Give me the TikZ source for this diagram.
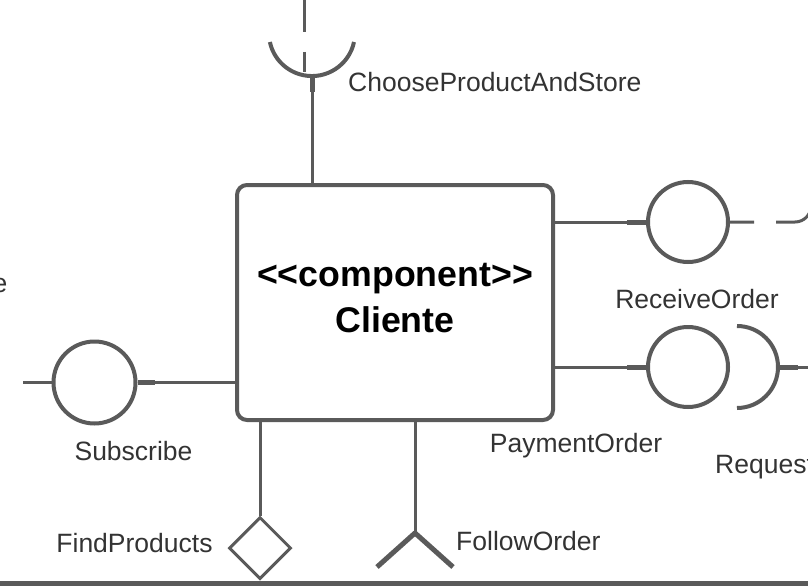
\documentclass[tikz,border=0pt]{standalone}
\usepackage{fontspec}
\setmainfont{Liberation Sans}[Ligatures=TeXOff]
\usetikzlibrary{shapes.geometric}
\definecolor{lc}{HTML}{5A5A5A}
\definecolor{tc}{HTML}{333333}
\begin{document}
\begin{tikzpicture}[x=1pt,y=-1pt,
  conn/.style={draw=lc,line width=3pt},
  stub/.style={draw=lc,line width=5pt},
  iface/.style={circle,draw=lc,line width=4pt,minimum size=80pt,inner sep=0pt,fill=white},
  compbox/.style={draw=lc,line width=4pt,rounded corners=10pt,minimum width=316pt,minimum height=235pt,inner sep=0pt},
  lbl/.style={text=tc,font=\fontsize{26.5}{30}\selectfont,inner sep=0pt},
  titletext/.style={text=black,font=\fontsize{35.7}{40}\selectfont\bfseries,inner sep=0pt}
]
\useasboundingbox (0,0) rectangle (808,586);
\clip (0,0) rectangle (808,586);

% component
\node[compbox] (cliente) at (395,302.5) {};
\node[titletext,anchor=base] (stereo) at (395,286.7) {<<component>>};
\node[titletext,anchor=base] (cname) at (395,332.3) {Cliente};

% top required interface
\coordinate (chs) at (312,76);
\draw[conn,line width=4pt] (354,42) arc[start angle=12,end angle=168,radius=43];
\draw[conn] (chs) -- (cliente.north -| chs);
\draw[stub] (chs) -- ++(0,16);
\coordinate (topdash) at (304,0);
\coordinate (topdashend) at (304,72);
\draw[conn,dash pattern=on 32pt off 20pt] (topdash) -- (topdashend);
\node[lbl,anchor=base west] (lchs) at (348,92) {ChooseProductAndStore};

% right provided interfaces
\node[iface] (rcv) at (688,222) {};
\node[iface] (pay) at (688,367) {};
\draw[conn] (cliente.east |- rcv) -- (rcv.west);
\draw[stub] ([xshift=-19pt]rcv.west) -- (rcv.west);
\coordinate (rcvup) at (811,120);
\draw[conn,dash pattern=on 24pt off 22pt on 120pt off 22pt,rounded corners=16pt] (rcv.east) -- (rcvup |- rcv) -- (rcvup);
\node[lbl,anchor=base] (lrcv) at (697,308.3) {ReceiveOrder};

\draw[conn] (cliente.east |- pay) -- (pay.west);
\draw[stub] ([xshift=-19pt]pay.west) -- (pay.west);
\node[lbl,anchor=base] (lpay) at (576,452.5) {PaymentOrder};

% request socket
\draw[conn,line width=4pt] (737,326) arc[start angle=-90,end angle=90,radius=41];
\coordinate (reqs) at (778,367);
\coordinate (reqend) at (812,367);
\draw[conn] (reqs) -- (reqend);
\draw[stub] (reqs) -- ++(20,0);
\node[lbl,anchor=base west] (lreq) at (715,473.5) {Request};

% left
\node[lbl,anchor=base east] (le) at (7.5,292) {e};
\node[iface,minimum size=82pt] (sub) at (94.5,382.5) {};
\coordinate (subend) at (23,382.5);
\draw[conn] (subend) -- (sub.west);
\draw[conn] (sub.east) -- (cliente.west |- sub);
\draw[stub] (sub.east) -- ++(17,0);
\node[lbl,anchor=base] (lsub) at (133.5,460.7) {Subscribe};

% bottom
\node[diamond,draw=lc,line width=3pt,minimum width=62pt,minimum height=62pt,inner sep=0pt,aspect=1] (fp) at (260,548) {};
\draw[conn] (cliente.south -| fp) -- (fp.north);
\node[lbl,anchor=base] (lfp) at (134.5,552.7) {FindProducts};

\coordinate (fo) at (415,533);
\coordinate (foL) at (377,567);
\coordinate (foR) at (453,567);
\draw[conn] (cliente.south -| fo) -- (fo);
\draw[conn,line width=5pt,line join=round] (foL) -- (fo) -- (foR);
\node[lbl,anchor=base west] (lfo) at (456,550) {FollowOrder};

\coordinate (bl) at (0,583.5);
\coordinate (br) at (808,583.5);
\draw[draw=lc,line width=5pt] (bl) -- (br);
\end{tikzpicture}
\end{document}
